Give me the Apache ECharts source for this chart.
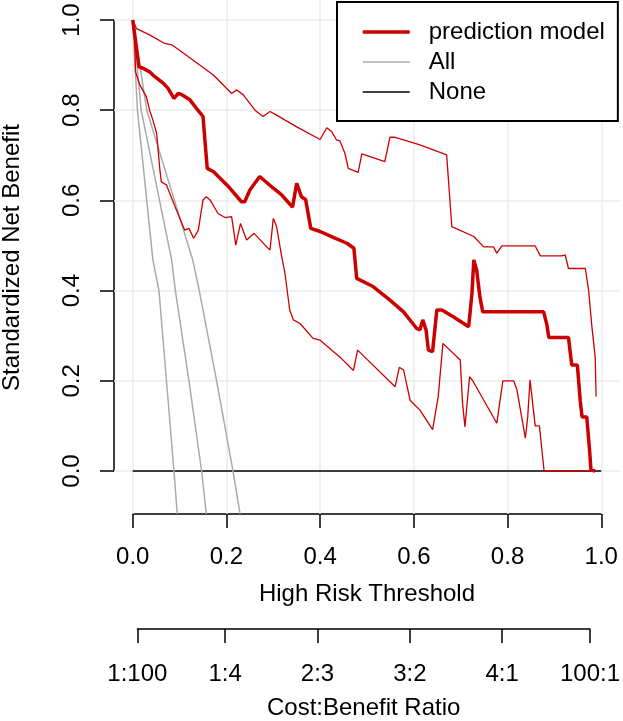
<!DOCTYPE html>
<html>
<head>
<meta charset="utf-8">
<script src="https://cdn.jsdelivr.net/npm/echarts@6/dist/echarts.min.js"></script>
<style>
html, body { margin: 0; padding: 0; background: #fff; }
#container { width: 623px; height: 721px; }
</style>
</head>
<body>
<div id="container"></div>
<script>
// [threshold, standardized net benefit]
var modelCurve = [
    [0, 1], [0.0135, 0.896], [0.022, 0.893], [0.036, 0.885], [0.043, 0.878], [0.065, 0.86],
    [0.075, 0.849], [0.088, 0.826], [0.097, 0.837], [0.104, 0.835], [0.122, 0.823], [0.136, 0.804],
    [0.15, 0.786], [0.154, 0.734], [0.159, 0.671], [0.172, 0.664], [0.204, 0.631], [0.232, 0.597],
    [0.239, 0.597], [0.25, 0.623], [0.271, 0.653], [0.3, 0.627], [0.318, 0.612], [0.341, 0.585],
    [0.35, 0.638], [0.355, 0.623], [0.36, 0.608], [0.369, 0.602], [0.38, 0.538], [0.4, 0.531],
    [0.428, 0.518], [0.457, 0.505], [0.472, 0.494], [0.478, 0.427], [0.513, 0.409], [0.549, 0.379],
    [0.578, 0.353], [0.606, 0.316], [0.613, 0.313], [0.619, 0.335], [0.626, 0.313], [0.631, 0.268],
    [0.64, 0.265], [0.649, 0.357], [0.66, 0.357], [0.684, 0.342], [0.717, 0.32], [0.72, 0.32],
    [0.724, 0.394], [0.728, 0.468], [0.731, 0.457], [0.734, 0.446], [0.741, 0.386], [0.747, 0.353],
    [0.877, 0.353], [0.884, 0.324], [0.888, 0.296], [0.93, 0.296], [0.937, 0.235], [0.949, 0.235],
    [0.955, 0.157], [0.959, 0.12], [0.969, 0.12], [0.975, 0.047], [0.978, 0.002], [0.987, 0]
];
var upperCurve = [
    [0, 1], [0.008, 0.981], [0.036, 0.967], [0.068, 0.948], [0.083, 0.945], [0.1, 0.933],
    [0.118, 0.919], [0.143, 0.9], [0.172, 0.878], [0.197, 0.852], [0.211, 0.837], [0.222, 0.845],
    [0.236, 0.834], [0.261, 0.8], [0.278, 0.786], [0.293, 0.797], [0.307, 0.789], [0.35, 0.763],
    [0.4, 0.735], [0.414, 0.761], [0.425, 0.752], [0.435, 0.734], [0.442, 0.732], [0.453, 0.704],
    [0.46, 0.671], [0.481, 0.662], [0.489, 0.703], [0.538, 0.686], [0.549, 0.74], [0.56, 0.74],
    [0.613, 0.723], [0.67, 0.701], [0.681, 0.542], [0.728, 0.52], [0.749, 0.497], [0.77, 0.497],
    [0.777, 0.483], [0.788, 0.499], [0.859, 0.499], [0.87, 0.477], [0.916, 0.477], [0.923, 0.479],
    [0.93, 0.449], [0.966, 0.449], [0.973, 0.401], [0.98, 0.32], [0.987, 0.253], [0.989, 0.165]
];
var lowerCurve = [
    [0, 1], [0.004, 0.956], [0.006, 0.885], [0.015, 0.856], [0.029, 0.83], [0.036, 0.8],
    [0.043, 0.778], [0.051, 0.749], [0.058, 0.667], [0.061, 0.641], [0.072, 0.634], [0.093, 0.579],
    [0.111, 0.534], [0.12, 0.538], [0.13, 0.516], [0.14, 0.534], [0.15, 0.601], [0.157, 0.608],
    [0.165, 0.601], [0.182, 0.571], [0.197, 0.562], [0.211, 0.564], [0.22, 0.501], [0.23, 0.549],
    [0.243, 0.512], [0.259, 0.527], [0.286, 0.497], [0.293, 0.49], [0.3, 0.56], [0.307, 0.542],
    [0.318, 0.475], [0.325, 0.438], [0.335, 0.357], [0.343, 0.335], [0.357, 0.327], [0.385, 0.294],
    [0.4, 0.29], [0.428, 0.265], [0.442, 0.253], [0.471, 0.223], [0.48, 0.268], [0.56, 0.187],
    [0.569, 0.23], [0.578, 0.224], [0.592, 0.157], [0.613, 0.135], [0.64, 0.092], [0.652, 0.165],
    [0.662, 0.283], [0.699, 0.246], [0.704, 0.15], [0.709, 0.098], [0.719, 0.209], [0.727, 0.198],
    [0.777, 0.106], [0.79, 0.2], [0.813, 0.2], [0.82, 0.18], [0.838, 0.073], [0.843, 0.12],
    [0.848, 0.202], [0.859, 0.1], [0.868, 0.1], [0.878, 0], [0.987, 0]
];
var allCurve = [[0, 1], [0.018, 0.8], [0.083, 0.468], [0.091, 0.4], [0.12, 0.2], [0.147, 0], [0.157, -0.095]];
var allLower = [[0, 1], [0.01, 0.8], [0.043, 0.468], [0.056, 0.4], [0.072, 0.2], [0.088, 0], [0.095, -0.095]];
var allUpper = [[0, 1], [0.03, 0.8], [0.128, 0.468], [0.142, 0.4], [0.179, 0.2], [0.214, 0], [0.229, -0.095]];
var noneCurve = [[0, 0], [1, 0]];

var thresholdTicks = [0, 0.2, 0.4, 0.6, 0.8, 1];
var benefitTicks = [0, 0.2, 0.4, 0.6, 0.8, 1];
var ratioTicks = [0.0099, 0.2, 0.4, 0.6, 0.8, 0.9901];
var ratioLabels = ['1:100', '1:4', '2:3', '3:2', '4:1', '100:1'];
var legendNames = ['prediction model', 'All', 'None'];

var FONT = '"Liberation Sans", Arial, sans-serif';
var RED = '#cc0000';
var GREY = '#aaaaaa';
var THICK = 3.5, THIN = 1.3;

// plot region (R usr area) in pixels, and its data extent
var plotLeft = 114, plotTop = 1, plotW = 506, plotH = 513;
var xRange = [-0.04, 1.04];
var yRange = [-0.0953, 1.0421];
function px(v) { return plotLeft + (v - xRange[0]) / (xRange[1] - xRange[0]) * plotW; }
function py(v) { return plotTop + (yRange[1] - v) / (yRange[1] - yRange[0]) * plotH; }
var plotBottom = plotTop + plotH;
var ratioLine = 633;

var dom = document.getElementById('container');
var myChart = echarts.init(dom, null, { renderer: 'canvas' });

function curve(name, data, color, width, z) {
    return {
        name: name,
        type: 'line',
        xAxisIndex: 0,
        yAxisIndex: 0,
        data: data,
        symbol: 'none',
        showSymbol: false,
        z: z || 2,
        lineStyle: { color: color, width: width },
        itemStyle: { color: color },
        emphasis: { disabled: true },
        animation: false
    };
}

var axisText = { fontSize: 24, fontFamily: FONT, color: '#000' };

var option = {
    animation: false,
    grid: [
        { left: plotLeft, top: plotTop, width: plotW, height: plotH },
        { left: px(0), top: py(1), width: px(1) - px(0), height: plotBottom - py(1) },
        { left: plotLeft, top: py(1), width: 60, height: py(0) - py(1) },
        { left: px(ratioTicks[0]), top: 600, width: px(ratioTicks[5]) - px(ratioTicks[0]), height: ratioLine - 600 }
    ],
    xAxis: [
        { gridIndex: 0, type: 'value', min: xRange[0], max: xRange[1], show: false },
        {
            gridIndex: 1, type: 'value', min: 0, max: 1, interval: 0.2,
            axisLine: { show: true, lineStyle: { color: '#000', width: 1.5 } },
            axisTick: { show: true, length: 14, lineStyle: { color: '#000', width: 1.5 } },
            axisLabel: Object.assign({ margin: 31, formatter: function (v) { return v.toFixed(1); } }, axisText),
            splitLine: { show: false },
            name: 'High Risk Threshold', nameLocation: 'middle', nameGap: 68,
            nameTextStyle: axisText
        },
        { gridIndex: 2, type: 'value', min: 0, max: 1, show: false },
        {
            gridIndex: 3, type: 'value', min: ratioTicks[0], max: ratioTicks[5],
            axisLine: { show: true, lineStyle: { color: '#000', width: 1.5 } },
            axisTick: { show: true, length: 14, customValues: ratioTicks, lineStyle: { color: '#000', width: 1.5 } },
            axisLabel: Object.assign({
                margin: 33, customValues: ratioTicks,
                formatter: function (v) { return ratioLabels[ratioTicks.indexOf(v)]; }
            }, axisText),
            splitLine: { show: false },
            name: 'Cost:Benefit Ratio', nameLocation: 'middle', nameGap: 67,
            nameTextStyle: axisText
        }
    ],
    yAxis: [
        { gridIndex: 0, type: 'value', min: yRange[0], max: yRange[1], show: false },
        { gridIndex: 1, type: 'value', min: 0, max: 1, show: false },
        {
            gridIndex: 2, type: 'value', min: 0, max: 1, interval: 0.2, position: 'left',
            axisLine: { show: true, lineStyle: { color: '#000', width: 1.5 } },
            axisTick: { show: true, length: 14, lineStyle: { color: '#000', width: 1.5 } },
            axisLabel: Object.assign({ margin: 30, rotate: 90, formatter: function (v) { return v.toFixed(1); } }, axisText),
            splitLine: { show: false }
        },
        { gridIndex: 3, type: 'value', min: 0, max: 1, show: false }
    ],
    legend: {
        orient: 'vertical',
        left: 337,
        top: 2,
        itemWidth: 47,
        itemHeight: 14,
        itemGap: 6,
        padding: [18, 13, 17, 24],
        borderColor: '#000',
        borderWidth: 2,
        backgroundColor: '#fff',
        itemStyle: { opacity: 0 },
        lineStyle: { width: 1.5 },
        textStyle: { fontSize: 24, fontFamily: FONT, color: '#000', padding: [0, 0, 0, 14] },
        data: legendNames.map(function (n, i) {
            return i === 0 ? { name: n, lineStyle: { width: THICK } } : { name: n };
        })
    },
    graphic: [
        {
            type: 'text',
            x: 12,
            y: plotTop + plotH / 2,
            rotation: Math.PI / 2,
            style: {
                text: 'Standardized Net Benefit',
                font: '24px ' + FONT,
                fill: '#000',
                textAlign: 'center',
                textVerticalAlign: 'middle'
            }
        }
    ],
    series: [
        {
            name: 'grid',
            type: 'line',
            xAxisIndex: 0,
            yAxisIndex: 0,
            data: [],
            z: 1,
            silent: true,
            markLine: {
                z: 1,
                silent: true,
                symbol: ['none', 'none'],
                label: { show: false },
                animation: false,
                lineStyle: { color: '#ebebeb', width: 1.5, type: 'solid' },
                emphasis: { disabled: true },
                data: thresholdTicks.map(function (v) { return { xAxis: v }; })
                    .concat(benefitTicks.map(function (v) { return { yAxis: v }; }))
            }
        },
        curve('None', noneCurve, '#000', 1.5, 2),
        curve('All', allLower, GREY, 1.5, 3),
        curve('All', allUpper, GREY, 1.5, 3),
        curve('All', allCurve, GREY, 1.5, 3),
        curve('prediction model', upperCurve, RED, THIN, 4),
        curve('prediction model', lowerCurve, RED, THIN, 4),
        curve('prediction model', modelCurve, RED, THICK, 5)
    ]
};

if (option && typeof option === 'object') {
    myChart.setOption(option);
}

window.addEventListener('resize', myChart.resize);
</script>
</body>
</html>
